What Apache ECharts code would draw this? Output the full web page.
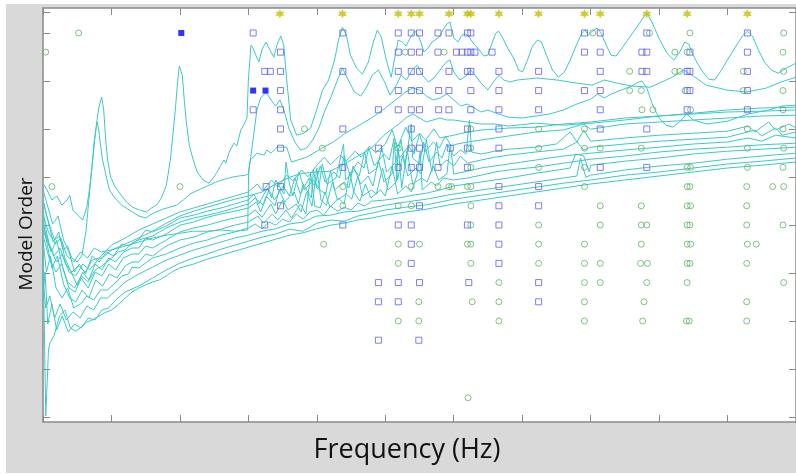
<!DOCTYPE html>
<html><head><meta charset="utf-8">
<script src="https://cdn.jsdelivr.net/npm/echarts@6/dist/echarts.min.js"></script>
<style>html,body{margin:0;padding:0;background:#fff}#c{width:796px;height:474px}</style>
</head><body><div id="c"></div>
<script>
// ---- stabilization markers (frequency, model order) ----
const orders = [80,76,72,68,64,60,56,52,48,44,40,36,32,28,24,20,16,4];
const squareFreqs = [
 [30.7,43.8,51.9,53.8,55.0,57.7,59.3,62.0,62.5,79.1,81.4,88.2,102.9],
 [34.7,51.9,53.8,55.0,57.7,60.4,61.2,62.0,62.5,63.1,65.6,79.1,81.4,87.5,88.2,94.5,102.9],
 [32.4,33.2,34.7,43.8,51.9,53.8,55.0,59.3,62.0,62.5,66.6,72.4,81.4,87.5,88.2,94.1,94.5,102.9],
 [34.7,51.9,53.8,55.0,57.8,59.3,62.5,66.6,72.4,79.1,81.4,94.1,94.5,102.9],
 [30.7,34.7,49.0,51.9,53.8,55.0,57.8,59.3,62.5,66.6,72.4,81.4,94.1,102.9],
 [34.7,43.8,53.8,62.0,66.6,81.4,88.2],
 [34.7,49.0,53.8,55.0,59.5,62.0,66.6],
 [43.8,51.9,53.8,55.0,57.7,62.0,81.4,88.2],
 [32.6,34.7,66.6,72.4],
 [34.7,55.0,66.6,72.4],
 [32.4,43.8,51.9,53.8,62.0,66.6],
 [53.8,66.6],
 [53.8,66.6],
 [49.0,51.9,55.0,62.2,72.4],
 [49.0,51.9,72.4],
 [],
 [49.0,54.9],
 []
];
const circleFreqs = [
 [5.2,80.3,88.6,94.5,108.2],
 [0.4,52.9,58.6,92.3,94.1,108.1],
 [85.7,92.3,93.0,102.3,108.2],
 [85.7,87.4,93.8,102.3,108.1],
 [87.5,89.1,94.6,108.1],
 [38.2,62.5,72.4,79.1,102.9,108.1],
 [40.8,51.9,62.5,72.4,79.1,81.4,87.4,102.9,108.2],
 [62.5,72.4,79.1,94.1,94.6,102.9,108.1],
 [1.3,20.0,43.8,53.8,57.7,59.3,59.7,62.0,62.5,79.1,94.1,94.5,102.8,106.6,108.2],
 [43.8,51.9,53.8,62.5,81.4,87.4,94.1,94.6,102.8],
 [62.5,72.4,81.4,87.4,88.2,94.1,94.5,102.8,108.1],
 [41.0,51.9,55.0,62.0,62.5,72.4,79.1,87.4,94.1,94.6,102.9,104.2],
 [51.9,62.5,72.4,79.1,81.4,87.3,88.3,94.1,94.5,102.8],
 [66.6,79.1,81.4,88.2,94.1,108.2],
 [54.9,62.7,66.6,79.1,87.8,102.8],
 [51.9,54.9,66.6,79.1,87.6,94.0,94.4,102.8],
 [],
 [62.1]
];
const filledSquares = [[20.2,80],[30.7,68],[32.5,68]];
const starOrder = 84;
const starFreqs = [34.6,43.75,51.9,53.8,55.0,59.3,62.0,62.5,66.6,72.4,79.1,81.4,88.2,94.1,102.9];

// ---- spectral curves [frequency, dB] ----
const U1 = [[0,-43.8],[0.58,-45.5],[1.31,-48],[2.03,-47],[2.76,-49.3],[3.49,-48],[3.92,-46.8],[4.36,-50.5],[5.09,-51.8],[5.81,-53],[6.4,-49.8],[6.83,-44.8],[7.27,-38],[7.7,-30.5],[8.14,-25],[8.58,-22.3],[8.87,-25.5],[9.16,-33],[9.45,-38],[9.88,-42.3],[10.47,-44.5],[11.19,-46.3],[12.2,-48.5],[13.08,-49.8],[14.1,-50.5],[15.1,-51],[15.84,-50],[16.57,-49.3],[17.3,-47.5],[18.02,-44.3],[18.6,-38],[19.04,-30.5],[19.33,-25.5],[19.62,-19.3],[19.91,-14.5],[20.13,-14],[20.35,-16.8],[20.64,-23],[20.93,-28.5],[21.37,-34.3],[21.95,-38],[22.53,-41],[23.4,-43],[24.27,-43.8],[25.15,-41.8],[26,-39.3],[26.45,-38],[26.7,-38.8],[27.2,-36],[27.9,-33.8],[28.3,-34.5],[28.9,-30.5],[29.4,-29],[29.8,-27.5],[30.0,-18],[30.38,-9.3],[30.67,-10],[31.1,-11.8],[31.54,-13.5],[31.98,-10.5],[32.56,-8.5],[33.14,-10.5],[33.72,-12.3],[34.16,-9.3],[34.74,-7],[35.17,-9.3],[35.6,-18],[36.19,-28],[37.06,-31.8],[38.08,-31.3],[39.1,-30],[39.97,-25.5],[40.84,-20.5],[41.72,-18],[42.59,-13],[43.17,-8],[43.75,-4.8],[44.33,-6.8],[44.91,-11.8],[45.78,-15],[46.66,-16.5],[47.53,-13.5],[48.26,-8.5],[48.84,-5.5],[49.42,-7.3],[50.15,-13],[50.87,-17.3],[51.45,-11.8],[51.89,-8],[52.47,-8.5],[53.05,-9.5],[53.63,-7.5],[54.36,-5.8],[54.94,-7.3],[55.67,-11],[56.25,-10],[56.83,-8.5],[57.27,-8],[57.85,-7.3],[58.43,-5.5],[59.01,-4],[59.45,-3.5],[60.03,-7.5],[60.61,-8.5],[61.19,-6.8],[61.77,-6.5],[62.35,-7.5],[62.94,-9],[63.52,-10],[64.39,-12],[64.97,-11.8],[65.55,-9],[66.13,-6.3],[66.57,-5.8],[67.15,-7.5],[67.88,-10],[68.75,-12.5],[69.48,-15.5],[70.06,-16],[70.78,-13],[71.51,-9.5],[72.24,-8],[72.82,-8.5],[73.55,-11.8],[74.42,-15.5],[75.29,-17.3],[76.16,-16],[77.03,-13],[77.91,-9.3],[78.63,-6.5],[79.22,-5.5],[79.65,-6.8],[80.23,-5.8],[80.96,-5],[81.54,-6.3],[82.27,-9.3],[82.99,-11.8],[83.72,-12],[84.59,-10],[85.61,-7.5],[86.77,-4.8],[87.65,-2.5],[88.23,-1.3],[88.95,-3.5],[89.97,-7.5],[91.13,-11.3],[92.15,-13],[93.02,-11],[93.75,-8.5],[94.33,-9],[94.77,-11],[95.49,-13.5],[96.37,-16],[97.24,-17.8],[98.11,-18],[99.13,-15.5],[100.15,-12.5],[101.31,-9.3],[102.18,-7],[102.91,-5.8],[103.63,-7],[104.51,-10.5],[105.38,-13.5],[106.4,-15.5],[107.41,-16.3],[108.58,-15],[110,-13.8]];
const U2 = [[0,-48],[0.5,-51.8],[1,-54.5],[1.7,-58],[2.4,-57],[3,-60.5],[3.6,-59.5],[4.2,-62.5],[5,-63.5],[5.7,-61.8],[6.3,-55.5],[6.7,-48],[7.1,-40.5],[7.5,-33],[7.9,-28.5],[8.1,-30],[8.4,-34.3],[8.7,-38],[9.2,-41.8],[9.7,-45.5],[10.5,-47.5],[11.5,-49.3],[12.6,-50.5],[14,-52],[15,-52.5],[15.6,-51.8],[16.5,-51],[17.5,-50.3],[18.5,-49.8],[19.5,-49.3],[20.5,-48],[21.5,-46.5],[22.7,-45.5],[24,-44.5],[25.3,-43.5],[26.5,-42.8],[27.6,-42.3],[28.6,-42],[29.6,-41.8],[30.0,-41.5],[30.6,-34],[31.25,-25.5],[31.8,-22.5],[32.6,-21],[33.3,-23],[34,-24.5],[34.6,-23],[35.2,-25.5],[35.9,-30],[36.8,-33.5],[37.6,-35.5],[38.5,-35],[39.4,-33],[40.3,-30],[41.1,-26],[42,-22.5],[42.9,-18.5],[43.75,-15],[44.6,-18],[45.5,-21],[46.4,-22],[47.2,-20],[48.1,-16.8],[49,-15.5],[49.9,-18.5],[50.7,-21.8],[51.6,-19.3],[52.3,-16.8],[53.1,-18],[53.9,-15.5],[54.7,-14.3],[55.4,-16.8],[56.3,-18.5],[57.1,-17.5],[58,-15.5],[58.9,-13.5],[59.45,-13],[60,-16],[60.9,-18],[61.8,-17],[62.5,-15.5],[63.2,-17],[64.1,-19],[65,-20.5],[65.8,-18.5],[66.6,-16.8],[67.3,-18],[68.2,-18.5],[69.3,-18],[72.2,-17.5],[75.1,-18],[78.1,-18.8],[80.2,-19.3],[82,-18],[83.9,-18.8],[86,-19.5],[88.7,-19.8],[90.4,-18.5],[91.9,-17.3],[93.6,-15.5],[94.8,-16.8],[96.9,-19.3],[99.9,-20.5],[102.8,-21],[105.7,-20],[107.8,-18.5],[110,-17.3]];
const U3 = [[0,-51.8],[0.8,-56],[1.8,-59],[2.6,-57.5],[3.5,-62],[4.5,-63.5],[5.5,-61],[6.5,-62.5],[7.5,-60],[8.5,-61],[10,-60.5],[12,-59.5],[14,-58.5],[16,-57.5],[18,-56.8],[20,-56.3],[22,-55.8],[24,-55.8],[26,-55.5],[28,-55.8],[29.9,-55.5],[30.05,-40.5],[30.3,-38],[31.25,-36.3],[32.3,-36.8],[32.7,-35.5],[33.3,-36.3],[34.2,-34.8],[35.6,-34.8],[36.3,-38.5],[38.5,-37.3],[41,-34.8],[42.4,-33.5],[44,-31.5],[46,-29.5],[48,-27.5],[50,-25],[51.5,-23],[53,-21],[54,-20],[55,-20.5],[56,-22],[57,-23],[58,-22.5],[59,-21.5],[60,-23],[61,-24.5],[62,-24],[63,-25],[64,-26],[65,-25.5],[66.5,-26.5],[68,-27.3],[70,-27.5],[72,-27],[74,-26.5],[76,-25.5],[78,-24],[80,-22.8],[81,-21.5],[82,-22.5],[83,-21.5],[84.5,-20.5],[86,-19.5],[87,-18.5],[87.5,-18.3],[88.2,-20],[89,-24],[90,-27.5],[91,-29.3],[92,-29.8],[93,-28.5],[94,-26.5],[95,-28],[97,-29],[100,-28.3],[103,-26.5],[106,-25.5],[108,-24.5],[110,-24.3]];
const U4 = [[0,-55.5],[1,-60],[2,-63.5],[2.8,-61.5],[3.8,-66],[4.8,-67],[5.8,-64],[6.8,-65.5],[8,-63],[9,-62],[10,-60.5],[12,-59],[14,-57.5],[16,-55.8],[18,-53.8],[20,-52],[22,-50.8],[24,-49.8],[26,-48.8],[28,-47.8],[30,-47],[31,-46.5],[32,-46],[34,-44],[36,-42.3],[38,-41.3],[40,-41],[42,-40.8],[44,-39],[46,-37],[48,-35],[50,-31.5],[52,-29],[53,-27.5],[54,-26.5],[55,-27.5],[56,-28.5],[57,-28],[58,-27.5],[59,-28],[60,-28],[62,-28.5],[64,-29],[66,-29],[68,-29.5],[72,-28.8],[76,-29.3],[80,-28.8],[85,-28],[90,-27],[95,-26.3],[100,-25.5],[105,-25],[110,-24.8]];
const U5 = [[0,-54.3],[0.7,-58],[1.6,-62],[2.5,-60],[3.3,-64],[4.2,-66],[5.2,-64.5],[6.2,-66],[7.2,-63],[8.2,-62.5],[10,-59.3],[12,-57.5],[14,-55.5],[16,-54],[18,-52.5],[20,-51],[22,-50],[24,-49],[26,-48],[28,-47],[30,-46],[31.3,-44],[32.1,-45.8],[33.4,-43],[34.3,-44.8],[35.6,-41.8],[36.5,-43.2],[37.8,-40.5],[38.7,-42.2],[40,-39.3],[41.1,-37.3],[42,-39.2],[43.4,-36.8],[44.3,-38.2],[45.6,-35.8],[46.5,-37.3],[47.7,-34.5],[48.6,-36.2],[50,-34],[51,-30.5],[51.8,-34.8],[53,-29.8],[53.9,-33.3],[55,-31.3],[55.9,-33],[57.1,-30.2],[58,-32.5],[60,-31.8],[62,-31],[64,-30.5],[66,-30.3],[68,-30],[72,-29.8],[76,-29],[80,-28.5],[85,-27.5],[90,-27],[95,-26.5],[100,-26],[105,-25.8],[110,-25.5]];
const U6 = [[0,-56.8],[0.9,-62.5],[1.9,-66],[2.7,-64],[3.6,-68.5],[4.6,-70],[5.6,-67],[6.6,-68.5],[7.6,-65.5],[8.6,-64.5],[10,-62.5],[11,-61],[12,-60.5],[13,-58.8],[14,-58],[16,-57],[18,-55],[20,-53.5],[22,-52.5],[24,-51.8],[26,-51],[28,-50],[30,-49],[31,-47.5],[32.2,-49.3],[33,-45.5],[33.8,-48],[35.1,-44.5],[36,-47],[36.8,-42.5],[37.6,-46.5],[38.9,-42.5],[39.7,-44.5],[40.5,-39.5],[41.2,-43.5],[42.5,-41],[43.3,-42.5],[44,-37],[44.8,-41.5],[46,-38.5],[46.9,-40],[47.6,-35],[48.4,-39.5],[49.8,-36.5],[50.6,-38],[51.3,-32.5],[52.1,-37.5],[53.4,-34.5],[54.2,-36.5],[55,-31.5],[55.8,-36],[57,-33.5],[57.9,-35],[58.8,-32],[59.6,-34.5],[60.5,-34],[62,-33.5],[64,-33],[66,-32.5],[68,-32],[72,-31],[76,-30.5],[79,-29],[80,-30.3],[85,-29],[90,-28.5],[95,-28],[100,-27.5],[105,-27],[110,-26.8]];
const L8 = [[0,-45.5],[0.6,-49],[1.4,-54],[2.2,-52],[3,-58],[3.8,-61],[4.6,-66],[5.3,-64],[6.2,-66.5],[7.2,-62],[8.2,-63.5],[9.3,-61],[10.3,-62],[11.5,-59],[12.5,-59.5],[14,-57.8],[15,-55.5],[16,-56],[18,-54.5],[20,-52.5],[22,-51.8],[24,-50.8],[26,-50],[28,-49],[30,-48],[30.8,-46.5],[31.5,-49],[32.8,-45],[33.4,-47.5],[34,-43],[35.2,-46.5],[35.5,-38.5],[36,-44],[36.5,-47],[37.4,-41],[38.2,-45.5],[39.5,-43],[40.3,-45],[40.8,-39],[41.5,-44],[42.8,-42.5],[43.5,-37],[43.9,-34],[44.2,-43],[45.5,-40.5],[46.2,-42],[47,-36],[47.6,-41.5],[48.8,-40],[49.5,-35],[50.2,-41],[51.5,-38.5],[52.3,-33],[52.9,-39.5],[53.8,-29],[54,-37.5],[55,-39],[55.6,-33.5],[56.4,-38.5],[57.5,-36],[58.3,-37.5],[59,-34],[60,-37],[61,-35.5],[61.8,-36.5],[62.3,-28],[62.6,-36],[64,-36.5],[66,-35.8],[68,-35.3],[72,-34.8],[75,-34],[77,-31],[78,-33.5],[79,-30.5],[80,-33.3],[85,-32.5],[90,-31.8],[95,-31.3],[100,-30.8],[103,-29.5],[104,-31],[106,-28.5],[107,-30.5],[109,-29],[110,-30]];
const L7 = [[0,-48],[0.7,-53],[1.5,-58.5],[2.3,-56],[3.2,-62.5],[4.1,-66],[5,-69.3],[5.8,-66],[6.7,-68],[7.6,-64],[8.6,-65.5],[9.6,-62.5],[10.6,-63.5],[11.8,-61],[13,-60],[14,-60],[15,-57.5],[16,-58],[18,-56.5],[20,-54.3],[22,-53.5],[24,-52.3],[26,-51.5],[28,-50.8],[30,-50],[31.2,-48.5],[31.8,-51],[32.6,-47],[33.9,-49.5],[34.5,-45.5],[35.3,-48.5],[36.7,-46],[37.3,-49],[38,-44],[39.2,-47.5],[39.5,-40.5],[40,-45],[41.3,-46.5],[42,-40.5],[42.6,-45.5],[44,-43.5],[44.7,-45],[45.3,-39.5],[46.4,-44],[47.5,-42],[48.2,-44.5],[49,-38],[49.8,-43.5],[51,-41.5],[51.3,-33.5],[51.8,-43],[52.5,-37],[53.3,-42],[54.5,-40],[55.2,-41.5],[56,-33],[56.8,-41],[57.5,-33.5],[58,-39.5],[59,-38],[60,-39.5],[61,-37],[62,-38.8],[64,-38],[66,-37.3],[68,-36.8],[72,-36],[76,-35.3],[78,-33.5],[79,-35.5],[80,-34.8],[85,-34],[90,-33.3],[95,-32.8],[100,-32.3],[104,-30.5],[105,-32],[107,-30],[108,-31.8],[110,-31]];
const L6 = [[0,-50.5],[0.5,-56],[1.2,-61],[2,-58],[2.9,-65],[3.8,-70],[4.7,-71],[5.6,-67.5],[6.6,-70],[7.6,-66],[8.6,-67],[9.6,-64],[10.6,-65.5],[11.7,-62.5],[13,-61.5],[14,-61.5],[15,-59.5],[16,-60],[18,-58],[20,-56],[22,-55],[24,-54.3],[26,-53.3],[28,-52.5],[30,-51.8],[31,-50.5],[32,-52.3],[33.3,-49],[34,-51.5],[35,-48],[35.8,-50.5],[37,-49],[37.7,-51],[38.5,-46],[39.3,-49.5],[40,-40],[40.6,-48],[41.4,-49.3],[42.3,-43.5],[43,-48],[44.3,-46.5],[45.1,-47.8],[46,-42],[46.7,-47],[48,-45.5],[48.7,-46.5],[49.6,-40],[50.4,-45.5],[51.6,-43.5],[51.9,-35],[52.4,-45],[53.2,-35.5],[54,-44],[55.3,-42.5],[56.1,-43.5],[57,-39.5],[57.8,-43],[59,-41.5],[59.5,-34],[60,-41.5],[62,-40.8],[64,-40],[66,-39.5],[68,-39],[72,-38],[76,-37],[80,-36.3],[85,-35.5],[90,-34.8],[95,-34],[100,-33.5],[103,-32.5],[105,-33.3],[107,-31.8],[110,-32.5]];
const L5 = [[0,-53],[0.6,-59],[1.3,-65],[2.1,-62],[3,-69],[3.9,-72.5],[4.8,-73.5],[5.7,-70.5],[6.7,-72.5],[7.7,-68],[8.7,-69.5],[9.7,-66.5],[10.8,-67.5],[12,-64.5],[13,-63.5],[14,-63.5],[15,-61.5],[16,-62],[18,-59.5],[20,-58],[22,-57.3],[24,-56],[26,-55.3],[28,-54.3],[30,-53.5],[31.4,-52],[32.2,-53.8],[33.5,-51.5],[34.3,-53],[35.5,-50.5],[36.3,-52.5],[37.6,-49],[38.4,-51.5],[39.1,-41.5],[39.7,-49.5],[40.5,-50],[41.2,-46],[41.9,-49.8],[43.2,-47.5],[44,-49],[44.8,-41],[45.4,-46],[46.3,-48.3],[47.1,-44],[47.9,-47.5],[49.3,-45.5],[50,-47],[51,-39.5],[51.8,-46.5],[53,-44.5],[53.8,-46],[54.6,-42],[55.1,-36],[55.4,-45.5],[56.7,-43.5],[57.5,-44.5],[58.5,-42.5],[60,-43],[62,-42.5],[64,-41.8],[66,-41],[68,-40.5],[72,-39.8],[76,-38.8],[80,-37.8],[85,-37],[90,-36],[95,-35.3],[100,-34.8],[105,-34.2],[110,-33.8]];
const L4 = [[0,-58],[0.5,-66],[1.1,-62],[1.9,-70],[2.8,-72.5],[3.6,-70],[4.5,-75],[5.5,-74],[6.4,-72],[7.4,-73],[8.4,-70.5],[9.4,-70.5],[10.4,-69],[11.5,-67],[12.5,-66.5],[13,-64.8],[14,-65],[16,-62.5],[18,-61.5],[20,-60],[22,-58.8],[24,-58],[26,-56.8],[28,-56],[30,-55],[31,-54],[32,-55.2],[33,-53.5],[34,-54.3],[35,-52.8],[36,-53.5],[37,-51.5],[38,-52.8],[39,-51],[40,-50.5],[41,-51.8],[42,-49.5],[43,-50.8],[44,-49.8],[45,-50.5],[46,-48.8],[47,-49.5],[48,-48.3],[50,-48],[52,-47.5],[54,-46.8],[56,-46.3],[58,-45.5],[60,-44.5],[64,-43.5],[68,-42.5],[72,-41.3],[76,-40.3],[77,-40],[77.8,-36.5],[79,-37],[79.8,-41],[80,-39.3],[85,-38.3],[90,-37.5],[95,-36.5],[100,-35.8],[105,-35.3],[110,-34.8]];
const L3 = [[0,-68],[0.4,-75],[1,-72],[1.7,-77.5],[2.5,-74],[3.4,-78],[4.4,-76],[5.4,-77.5],[6.4,-74.5],[7.4,-75.5],[8.4,-72.5],[9.4,-72.5],[10.4,-71],[12,-68.5],[14,-66.5],[16,-64.8],[18,-63],[20,-61.8],[22,-60.5],[24,-59.5],[26,-58.5],[28,-57.5],[30,-56.8],[32,-55.8],[34,-55.2],[36,-54],[38,-53.5],[40,-52],[42,-51.8],[44,-51],[46,-50.8],[48,-50],[50,-49.3],[53,-48.5],[56,-47.8],[60,-46.5],[64,-45.5],[68,-44.5],[72,-43.5],[76,-42.5],[78,-42],[78.5,-37.5],[79.3,-42.3],[80,-41.8],[85,-40.5],[90,-39.5],[95,-38.8],[100,-37.8],[105,-37],[110,-36.3]];
const L2 = [[0,-73],[0.3,-66],[0.7,-79],[1.3,-74],[2,-80.5],[2.8,-77],[3.7,-81],[4.6,-79],[5.6,-80],[6.6,-77.5],[7.6,-78],[8.6,-75.5],[9.6,-75],[10.6,-73],[12,-71],[14,-69.5],[16,-67.5],[18,-65.5],[20,-63.8],[22,-62.5],[24,-61.5],[26,-60.3],[28,-59.3],[30,-58.3],[32,-57.3],[34,-56.5],[36,-55.3],[38,-55.8],[40,-53.8],[42,-53],[44,-53.3],[46,-52],[48,-51.3],[50,-50.5],[53,-49.8],[56,-49.2],[60,-47.8],[64,-46.8],[68,-45.8],[72,-44.8],[76,-43.8],[80,-43],[85,-41.8],[90,-41],[95,-40],[100,-39],[105,-38.3],[110,-37.5]];
const L1 = [[0,-60.5],[0.2,-80.5],[0.4,-102],[0.6,-94],[0.8,-85.5],[1,-83.8],[1.6,-82],[2.4,-77],[3.2,-75.5],[4,-80],[4.8,-80.8],[5.6,-79.8],[6.4,-78.5],[7.2,-78],[8,-77.2],[9,-76.2],[10,-75.5],[11,-74.2],[12,-72.5],[13,-71],[14,-70],[15,-69.2],[16,-68.5],[17,-68],[18,-67],[19,-65.8],[20,-65],[22,-64],[24,-62.8],[26,-61.8],[28,-60.8],[30,-59.8],[32,-58.8],[34,-57.8],[36,-56.8],[38,-56.2],[40,-55.2],[42,-54.3],[44,-53.8],[46,-53],[48,-52.5],[50,-51.8],[53,-51],[56,-50.3],[60,-49],[64,-48],[68,-47],[72,-46],[76,-45],[80,-44],[85,-43],[90,-42],[95,-41],[100,-40],[105,-39.3],[110,-38.5]];
const curves = [U1,U2,U3,U4,U5,U6,L8,L7,L6,L5,L4,L3,L2,L1];

// ---- axis tick values ----
const xTicksStep = 10;
const leftOrderTicks = [0,10,20,30,40,50,60,70,80,84.4];
const rightOrderTicks = [0,10,20,30,40,50,60,70,84.4];

const sqData = [], ciData = [];
orders.forEach((o,i)=>{ squareFreqs[i].forEach(f=>sqData.push([f,o])); circleFreqs[i].forEach(f=>ciData.push([f,o])); });
const starData = starFreqs.map(f=>[f,starOrder]);

const AX = '#8a8a8a';
const chart = echarts.init(document.getElementById('c'), null, {renderer:'canvas'});
const lineSeries = curves.map(c=>({
  type:'line', xAxisIndex:0, yAxisIndex:2, data:c, showSymbol:false, symbol:'none',
  lineStyle:{color:'#3cc9c9', width:1}, silent:true, z:2, animation:false
}));
const starPath = 'path://M0,-10 L2.6,-4.5 L8.7,-5 L5.2,0 L8.7,5 L2.6,4.5 L0,10 L-2.6,4.5 L-8.7,5 L-5.2,0 L-8.7,-5 L-2.6,-4.5 Z';
chart.setOption({
  backgroundColor:'#ffffff',
  animation:false,
  graphic:[
    {type:'rect', z:-100, shape:{x:6,y:4,width:790,height:469}, style:{fill:'#d9d9d9'}, silent:true},
    {type:'rect', z:-99, shape:{x:43,y:8,width:757,height:414}, style:{fill:'#ffffff'}, silent:true},
    {type:'text', x:27, y:234, rotation:Math.PI/2, style:{text:'Model Order', font:'19px "Open Sans"', fill:'#111', align:'center', verticalAlign:'middle'}},
    {type:'text', x:407, y:450, style:{text:'Frequency (Hz)', font:'27px "Open Sans"', fill:'#111', align:'center', verticalAlign:'middle'}}
  ],
  grid:{left:43, top:8, width:756.8, height:414, show:false},
  xAxis:[
    {type:'value', position:'bottom', min:0, max:110, interval:xTicksStep,
     axisLine:{show:true, onZero:false, lineStyle:{color:AX, width:1.5}},
     axisTick:{show:true, inside:true, length:7, lineStyle:{color:AX, width:1}},
     axisLabel:{show:false}, splitLine:{show:false}},
    {type:'value', position:'top', min:0, max:110, interval:xTicksStep,
     axisLine:{show:true, onZero:false, lineStyle:{color:AX, width:1.5}},
     axisTick:{show:true, inside:true, length:7, lineStyle:{color:AX, width:1}},
     axisLabel:{show:false}, splitLine:{show:false}}
  ],
  yAxis:[
    {type:'value', position:'left', min:-1.04, max:85.2,
     axisLine:{show:true, onZero:false, lineStyle:{color:AX, width:1.5}},
     axisTick:{show:true, inside:true, length:7, customValues:leftOrderTicks, lineStyle:{color:AX, width:1}},
     axisLabel:{show:false}, splitLine:{show:false}},
    {type:'value', position:'right', min:-1.04, max:85.2,
     axisLine:{show:true, onZero:false, lineStyle:{color:AX, width:1.5}},
     axisTick:{show:true, inside:true, length:7, customValues:rightOrderTicks, lineStyle:{color:AX, width:1}},
     axisLabel:{show:false}, splitLine:{show:false}},
    {type:'value', show:false, min:-103.5, max:0}
  ],
  series: lineSeries.concat([
    {type:'scatter', xAxisIndex:0, yAxisIndex:0, data:sqData, symbol:'rect', symbolSize:6,
     itemStyle:{color:'rgba(0,0,0,0)', borderColor:'#5c5cff', borderWidth:1}, z:3, silent:true},
    {type:'scatter', xAxisIndex:0, yAxisIndex:0, data:ciData, symbol:'circle', symbolSize:6,
     itemStyle:{color:'rgba(0,0,0,0)', borderColor:'#5db45d', borderWidth:1}, z:3, silent:true},
    {type:'scatter', xAxisIndex:0, yAxisIndex:0, data:filledSquares, symbol:'rect', symbolSize:6,
     itemStyle:{color:'#0000ff'}, z:4, silent:true},
    {type:'scatter', xAxisIndex:0, yAxisIndex:0, data:starData, symbol:starPath, symbolSize:9,
     itemStyle:{color:'#c2c000'}, z:4, silent:true}
  ])
});
</script></body></html>
